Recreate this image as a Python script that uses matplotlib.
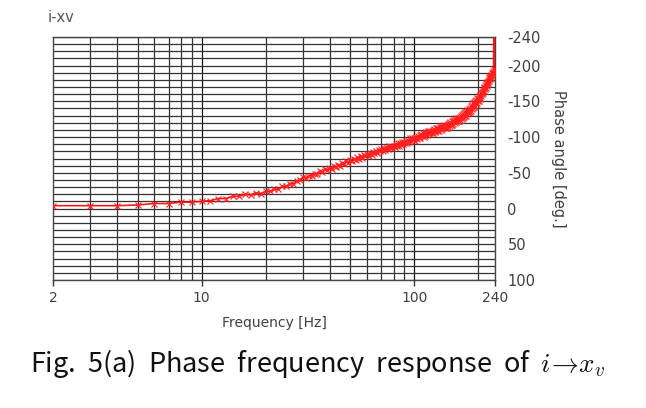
import matplotlib
matplotlib.use("Agg")
import matplotlib.pyplot as plt
from matplotlib.ticker import FixedLocator, NullFormatter

# ---- data ----
freq_hz = list(range(2, 241))
phase_deg = [
    -4, -4, -4, -5, -7, -7, -9, -9, -10,                                  # 2-10
    -11, -14, -14, -17, -17, -20, -19, -22, -21, -24,                     # 11-20
    -24, -27, -27, -31, -31, -35, -35, -39, -40, -44,                     # 21-30
    -43, -46, -46, -49, -49, -52, -51, -55, -54, -57,                     # 31-40
    -56, -59, -58, -61, -60, -64, -62, -66, -64, -68,                     # 41-50
    -66, -70, -68, -72, -70, -74, -71, -75, -73, -76,                     # 51-60
    -74, -78, -75, -79, -77, -81, -78, -82, -80, -83,                     # 61-70
    -81, -84, -82, -86, -83, -87, -84, -88, -85, -88,                     # 71-80
    -86, -90, -87, -91, -88, -92, -89, -93, -90, -93,                     # 81-90
    -91, -95, -92, -96, -93, -98, -94, -99, -96, -99,                     # 91-100
    -95, -100, -97, -102, -98, -103, -99, -104, -101, -105,               # 101-110
    -100, -106, -102, -107, -103, -108, -104, -109, -105, -109,           # 111-120
    -105, -110, -106, -111, -107, -112, -108, -113, -109, -113,           # 121-130
    -108, -114, -110, -115, -111, -116, -112, -117, -113, -116,           # 131-140
    -112, -117, -113, -118, -114, -120, -115, -121, -117, -122,           # 141-150
    -117, -123, -118, -124, -120, -125, -121, -127, -122, -126,           # 151-160
    -122, -127, -123, -128, -124, -130, -125, -131, -127, -132,           # 161-170
    -128, -133, -129, -135, -130, -136, -132, -138, -133, -137,           # 171-180
    -134, -139, -135, -141, -137, -143, -139, -145, -141, -147,           # 181-190
    -142, -149, -144, -150, -146, -152, -148, -154, -150, -155,           # 191-200
    -151, -157, -153, -159, -155, -161, -157, -163, -160, -165,           # 201-210
    -162, -168, -164, -170, -167, -173, -169, -176, -172, -177,           # 211-220
    -174, -179, -176, -181, -178, -184, -181, -186, -183, -187,           # 221-230
    -185, -189, -187, -190, -189, -192, -260, -195, -260, -260,           # 231-240
]

x_ticks = [2, 10, 100, 240]
x_tick_labels = ["2", "10", "100", "240"]
x_grid = [3, 4, 5, 6, 7, 8, 9, 20, 30, 40, 50, 60, 70, 80, 90, 200]
y_ticks = [-240, -200, -150, -100, -50, 0, 50, 100]
y_tick_labels = ["-240", "-200", "-150", "-100", "-50", "0", "50", "100"]
y_grid = list(range(-240, 101, 10))

plt.rcParams["mathtext.fontset"] = "cm"

fig = plt.figure(figsize=(6.46, 4.08), dpi=100)
ax = fig.add_axes([53 / 646, 1 - 280 / 408, 442 / 646, 243 / 408])

txt_color = "#404040"
grid_color = "#333333"

ax.set_xscale("log")
ax.set_xlim(2, 240)
ax.set_ylim(100, -240)

# grid lines
for g in x_grid:
    ax.axvline(g, color=grid_color, lw=0.9, zorder=1)
for g in [10, 100]:
    ax.axvline(g, color="#111111", lw=0.9, zorder=1)
for g in y_grid:
    ax.axhline(g, color=grid_color, lw=0.9, zorder=1)

ax.plot(freq_hz, phase_deg, color="#ff0000", lw=1.2, marker="x", ms=4.5,
        mew=0.9, mec="#ff2020", alpha=0.9, zorder=3, clip_on=True)

ax.xaxis.set_major_locator(FixedLocator(x_ticks))
ax.set_xticklabels(x_tick_labels)
ax.xaxis.set_minor_locator(FixedLocator([]))
ax.xaxis.set_minor_formatter(NullFormatter())
ax.tick_params(axis="x", which="major", direction="out", length=4, width=1,
               color="#333333", labelsize=10, labelcolor=txt_color, pad=4)

ax.yaxis.tick_right()
ax.yaxis.set_label_position("right")
ax.set_yticks(y_ticks)
ax.set_yticklabels(y_tick_labels)
ax.tick_params(axis="y", which="both", length=0, labelsize=10.5,
               labelcolor=txt_color, pad=9)

for s in ax.spines.values():
    s.set_color("#444444")
    s.set_linewidth(1.0)

ax.set_xlabel("Frequency [Hz]", fontsize=10, color=txt_color, labelpad=8)
ax.set_ylabel("Phase angle [deg.]", fontsize=10.5, color=txt_color,
              rotation=270, labelpad=18)

fig.text(48 / 646, 1 - 18 / 408, "i-xv", fontsize=10.5, color="#555555",
         va="center", ha="left")

fig.text(30 / 646, 1 - 363 / 408,
         "Fig.  5(a)  Phase  frequency  response  of  $i\\!\\rightarrow\\! x_v$",
         fontsize=19.5, color="#111111", va="center", ha="left",
         family=["Noto Sans CJK KR", "DejaVu Sans"])

fig.savefig("out.png", dpi=100)
